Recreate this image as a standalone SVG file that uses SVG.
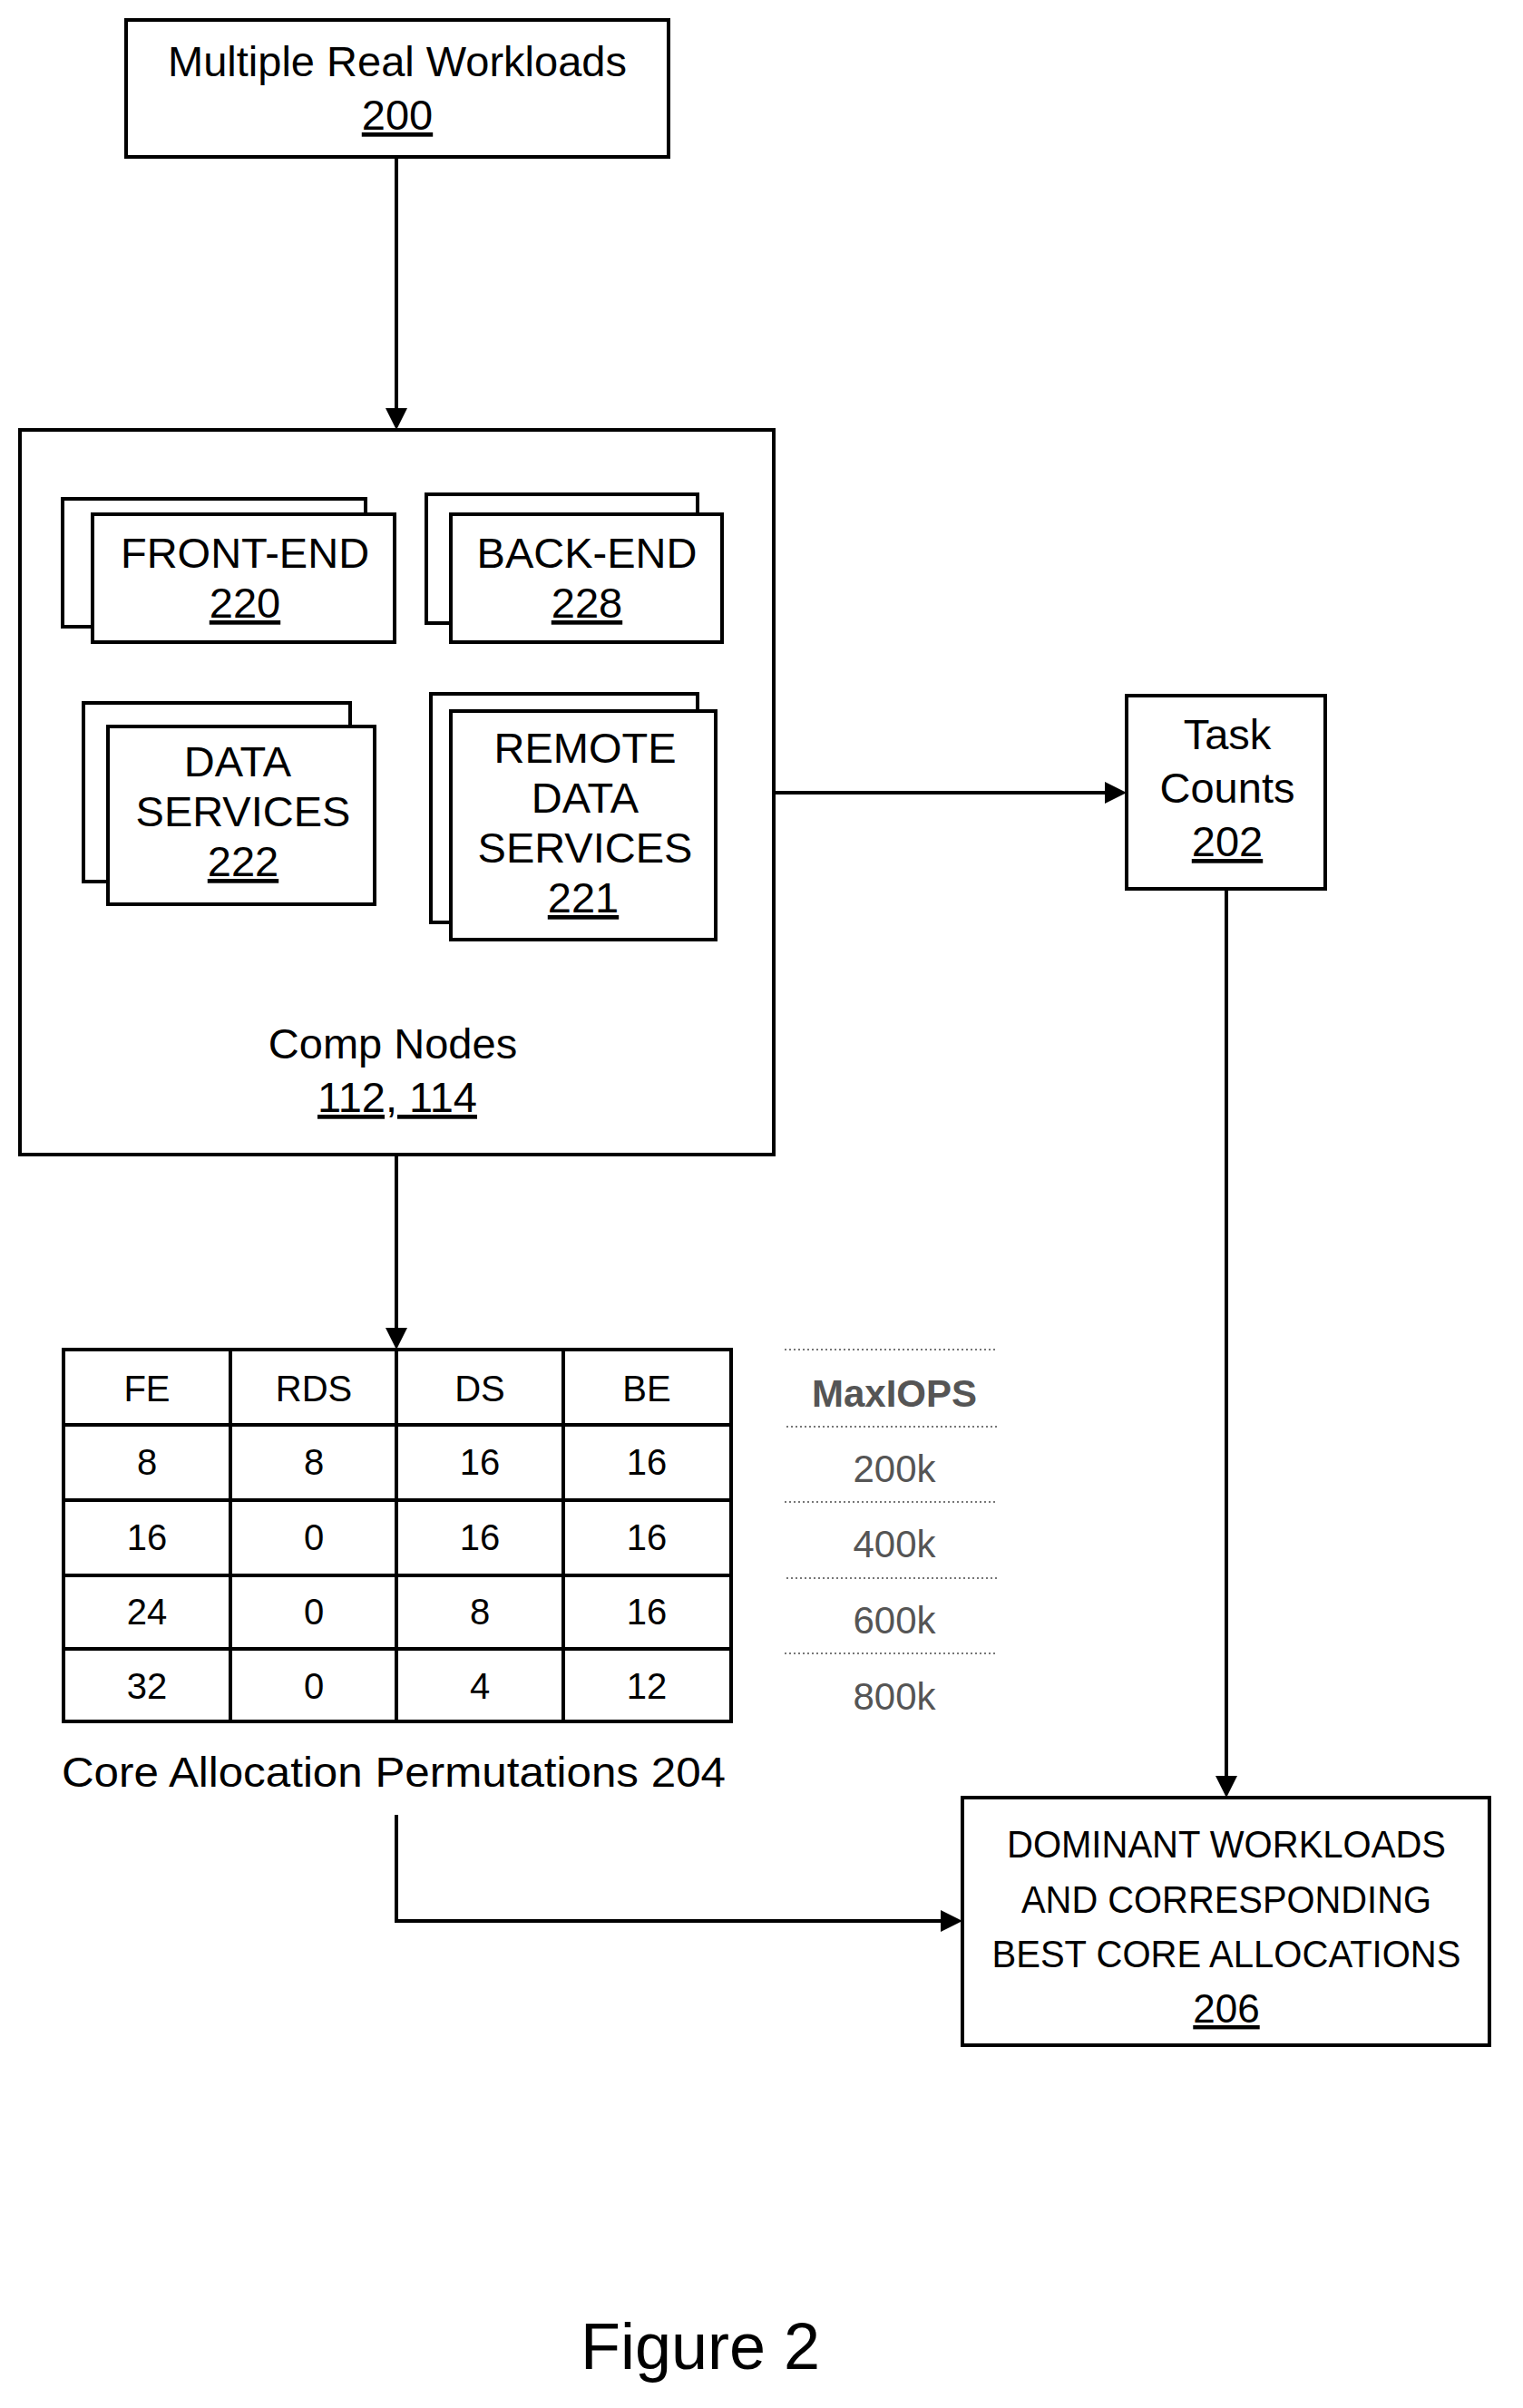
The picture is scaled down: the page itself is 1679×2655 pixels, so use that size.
<svg xmlns="http://www.w3.org/2000/svg" width="1679" height="2655" viewBox="0 0 1679 2655">
<style>
rect{fill:#fff;stroke:#000;stroke-width:4}
text{font-family:"Liberation Sans",Arial,sans-serif;fill:#000;text-anchor:middle}
.n{font-family:"Liberation Sans Narrow","Liberation Sans",sans-serif}
.b{font-size:47px}
.c{font-size:40px}
.d{font-size:42px}
.m{font-size:42px;fill:#555}
.con{stroke:#000;stroke-width:4;fill:none}
.dot{stroke:#777;stroke-width:2;stroke-dasharray:2 3}
</style>
<rect width="1679" height="2655" style="fill:#fff;stroke:none"/>
<g id="connectors">
<path class="con" d="M437,173 V455"/><path d="M425,450 L449,450 L437,474 z"/>
<path class="con" d="M853,874 H1225"/><path d="M1218,862 L1242,874 L1218,886 z"/>
<path class="con" d="M1352,980 V1965"/><path d="M1340,1958 L1364,1958 L1352,1982 z"/>
<path class="con" d="M437,1273 V1470"/><path d="M425,1464 L449,1464 L437,1488 z"/>
<path class="con" d="M437,2001 V2118 H1045"/><path d="M1037,2106 L1061,2118 L1037,2130 z"/>
</g>
<g id="n200"><rect x="139" y="22" width="598" height="151"/>
<text x="438" y="84" class="b">Multiple Real Workloads</text>
<text x="438" y="143" class="b" text-decoration="underline">200</text></g>
<g id="comp"><rect x="22" y="474" width="831" height="799"/>
<text x="433" y="1167" class="b">Comp Nodes</text>
<text x="438" y="1226" class="b" text-decoration="underline">112, 114</text></g>
<g id="n220"><rect x="69" y="550" width="334" height="141"/><rect x="102" y="567" width="333" height="141"/>
<text x="270" y="626" class="b">FRONT-END</text><text x="270" y="681" class="b" text-decoration="underline">220</text></g>
<g id="n228"><rect x="470" y="545" width="299" height="142"/><rect x="497" y="567" width="299" height="141"/>
<text x="647" y="626" class="b">BACK-END</text><text x="647" y="681" class="b" text-decoration="underline">228</text></g>
<g id="n222"><rect x="92" y="775" width="294" height="197"/><rect x="119" y="801" width="294" height="196"/>
<text x="262" y="856" class="b">DATA</text><text x="268" y="911" class="b">SERVICES</text><text x="268" y="966" class="b" text-decoration="underline">222</text></g>
<g id="n221"><rect x="475" y="765" width="294" height="252"/><rect x="497" y="784" width="292" height="252"/>
<text x="645" y="841" class="b">REMOTE</text><text x="645" y="896" class="b">DATA</text><text x="645" y="951" class="b">SERVICES</text><text x="643" y="1006" class="b" text-decoration="underline">221</text></g>
<g id="n202"><rect x="1242" y="767" width="219" height="213"/>
<text x="1353" y="826" class="b">Task</text><text x="1353" y="885" class="b">Counts</text><text x="1353" y="944" class="b" text-decoration="underline">202</text></g>
<g id="n206"><rect x="1061" y="1982" width="581" height="273"/>
<text x="1352" y="2048" class="n d" textLength="484" lengthAdjust="spacingAndGlyphs">DOMINANT WORKLOADS</text>
<text x="1352" y="2109" class="n d" textLength="452" lengthAdjust="spacingAndGlyphs">AND CORRESPONDING</text>
<text x="1352" y="2169" class="n d" textLength="517" lengthAdjust="spacingAndGlyphs">BEST CORE ALLOCATIONS</text>
<text x="1352" y="2230" class="n" style="font-size:44px" text-decoration="underline">206</text></g>
<g id="table204">
<rect x="70" y="1488" width="736" height="410"/>
<path class="con" d="M254,1488V1898M437,1488V1898M621,1488V1898M70,1571H806M70,1654H806M70,1737H806M70,1818H806"/>
<text x="162" y="1545" class="n c">FE</text><text x="346" y="1545" class="n c">RDS</text><text x="529" y="1545" class="n c">DS</text><text x="713" y="1545" class="n c">BE</text>
<text x="162" y="1626" class="n c">8</text><text x="346" y="1626" class="n c">8</text><text x="529" y="1626" class="n c">16</text><text x="713" y="1626" class="n c">16</text>
<text x="162" y="1709" class="n c">16</text><text x="346" y="1709" class="n c">0</text><text x="529" y="1709" class="n c">16</text><text x="713" y="1709" class="n c">16</text>
<text x="162" y="1791" class="n c">24</text><text x="346" y="1791" class="n c">0</text><text x="529" y="1791" class="n c">8</text><text x="713" y="1791" class="n c">16</text>
<text x="162" y="1873" class="n c">32</text><text x="346" y="1873" class="n c">0</text><text x="529" y="1873" class="n c">4</text><text x="713" y="1873" class="n c">12</text>
<text x="434" y="1970" class="n" style="font-size:46px" textLength="732" lengthAdjust="spacingAndGlyphs">Core Allocation Permutations 204</text>
</g>
<g id="maxiops">
<path class="dot" d="M865,1488H1100M867,1573H1102M865,1656H1100M867,1740H1102M865,1823H1100"/>
<text x="986" y="1551" class="n m" style="font-weight:bold">MaxIOPS</text>
<text x="986" y="1634" class="n m">200k</text>
<text x="986" y="1717" class="n m">400k</text>
<text x="986" y="1801" class="n m">600k</text>
<text x="986" y="1885" class="n m">800k</text>
</g>
<text x="772" y="2612" class="n" style="font-size:72px">Figure 2</text>
</svg>
